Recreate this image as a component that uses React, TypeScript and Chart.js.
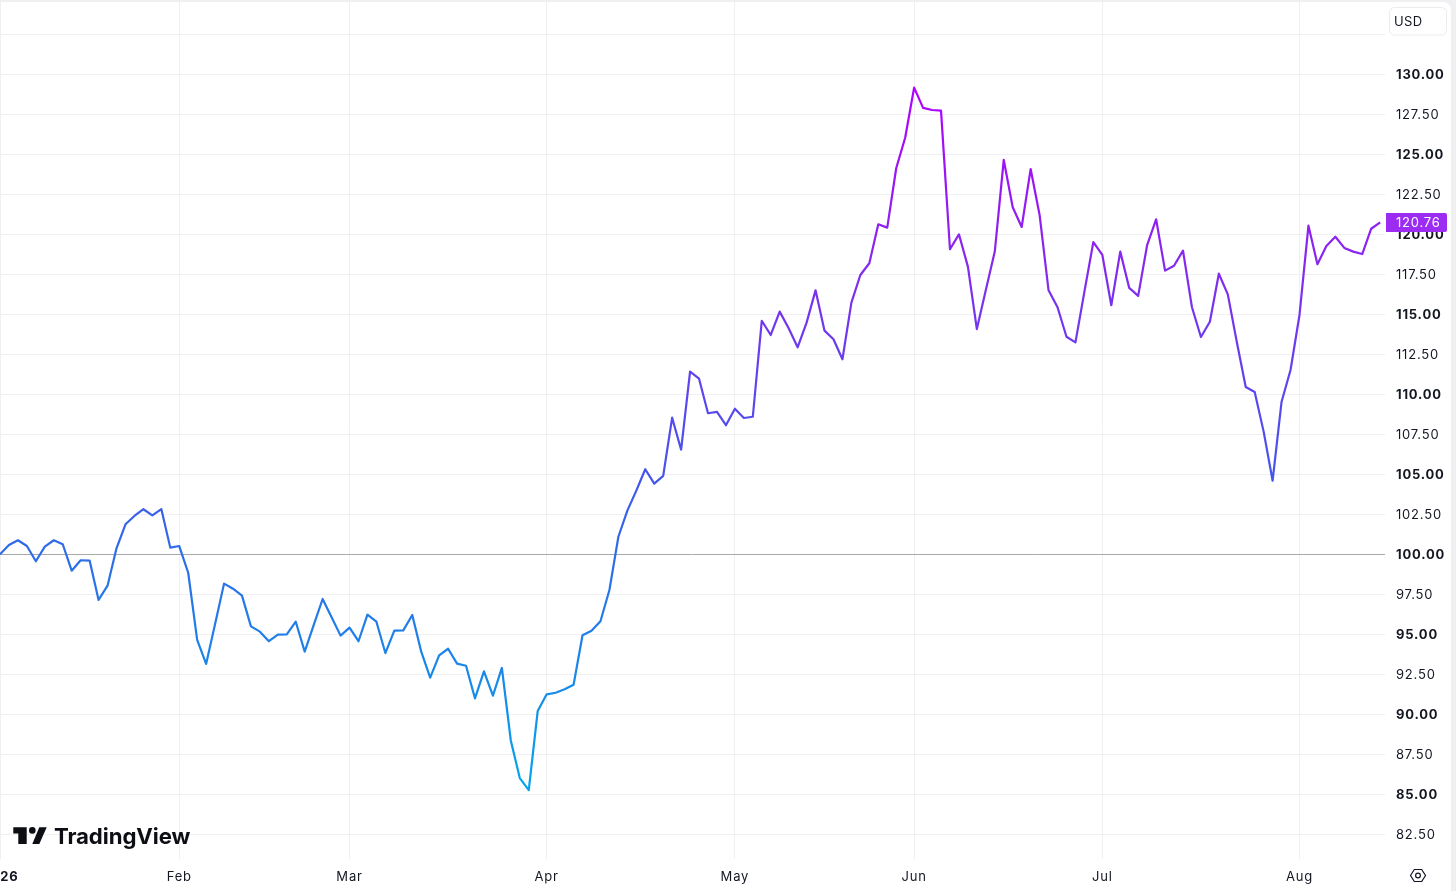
import React, { useEffect, useRef } from "react";
import { Chart, registerables } from "chart.js";

Chart.register(...registerables);

const indexValues = [
  100.01, 100.59, 100.89, 100.53, 99.58, 100.49, 100.89, 100.64, 98.99, 99.64,
  99.62, 97.16, 98.05, 100.39, 101.89, 102.41, 102.83, 102.45, 102.84, 100.43,
  100.53, 98.86, 94.66, 93.16, 95.66, 98.18, 97.86, 97.43, 95.51, 95.18,
  94.58, 94.99, 95.01, 95.8, 93.93, 95.59, 97.22, 96.08, 94.93, 95.43,
  94.58, 96.24, 95.8, 93.84, 95.24, 95.26, 96.22, 93.93, 92.3, 93.7,
  94.11, 93.18, 93.05, 91.01, 92.7, 91.18, 92.91, 88.36, 86.03, 85.28,
  90.22, 91.26, 91.36, 91.58, 91.86, 94.95, 95.24, 95.83, 97.78, 101.11,
  102.74, 103.99, 105.33, 104.43, 104.91, 108.55, 106.55, 111.43, 110.99, 108.83,
  108.91, 108.08, 109.11, 108.53, 108.61, 114.61, 113.72, 115.18, 114.14, 112.95,
  114.49, 116.51, 113.99, 113.45, 112.2, 115.74, 117.47, 118.2, 120.64, 120.43,
  124.14, 126.05, 129.18, 127.91, 127.78, 127.74, 119.08, 120.01, 117.99, 114.09,
  116.53, 118.93, 124.66, 121.7, 120.47, 124.09, 121.22, 116.51, 115.45, 113.61,
  113.26, 116.43, 119.53, 118.72, 115.58, 118.93, 116.66, 116.16, 119.34, 120.95,
  117.74, 118.05, 118.99, 115.45, 113.59, 114.55, 117.55, 116.26, 113.3, 110.47,
  110.16, 107.68, 104.61, 109.55, 111.53, 114.97, 120.55, 118.14, 119.28, 119.86,
  119.16, 118.93, 118.78, 120.36, 120.76,
];
const monthTicks = [0, 20, 39, 61, 82, 102, 123, 145];
const monthLabels = ["2026", "Feb", "Mar", "Apr", "May", "Jun", "Jul", "Aug"];
const priceTicks = [
  82.5, 85, 87.5, 90, 92.5, 95, 97.5, 100, 102.5, 105, 107.5, 110, 112.5, 115,
  117.5, 120, 122.5, 125, 127.5, 130, 132.5,
];
const unlabelledPrice = 132.5;
const baselinePrice = 100;
const currency = "USD";
const brand = "TradingView";

const FONT = "Inter, 'Liberation Sans', sans-serif";
const INK = "#131722";

const overlay = {
  id: "overlay",
  beforeDraw(chart: any) {
    const c = chart.ctx;
    c.letterSpacing = "0.8px";
    c.save();
    c.fillStyle = "#f0f0f3";
    c.fillRect(0, 0, chart.width, chart.height);
    c.fillStyle = "#ffffff";
    c.beginPath();
    c.roundRect(-10, 2, 1461, 900, 8);
    c.fill();
    c.restore();
  },
  afterDraw(chart: any) {
    const c = chart.ctx;
    const last = indexValues[indexValues.length - 1];
    const y = chart.scales.y.getPixelForValue(last);
    c.save();
    // last price badge
    c.fillStyle = "#9d2cf2";
    c.beginPath();
    c.roundRect(1386, Math.round(y) - 9, 61, 19, [0, 2, 2, 0]);
    c.fill();
    c.fillStyle = "#ffffff";
    c.font = `400 13px ${FONT}`;
    c.textBaseline = "middle";
    c.textAlign = "left";
    c.fillText(last.toFixed(2), 1396, Math.round(y) + 1);

    // currency box
    c.fillStyle = "#ffffff";
    c.strokeStyle = "#ececef";
    c.lineWidth = 1;
    c.beginPath();
    c.roundRect(1389.5, 7.5, 57, 27.5, 5);
    c.fill();
    c.stroke();
    c.fillStyle = INK;
    c.letterSpacing = "0.35px";
    c.fillText(currency, 1394, 22);

    // logo mark
    c.fillStyle = "#0c0e14";
    c.beginPath();
    c.moveTo(13.3, 827.3);
    c.lineTo(26.7, 827.3);
    c.lineTo(26.7, 844);
    c.lineTo(18.3, 844);
    c.lineTo(18.3, 833.6);
    c.lineTo(13.3, 833.6);
    c.closePath();
    c.fill();
    c.beginPath();
    c.arc(32.3, 830.4, 3.3, 0, Math.PI * 2);
    c.fill();
    c.beginPath();
    c.moveTo(39.3, 827.3);
    c.lineTo(46.7, 827.3);
    c.lineTo(39.3, 844);
    c.lineTo(32.3, 844);
    c.closePath();
    c.fill();
    c.letterSpacing = "-0.1px";
    c.font = `700 22.2px ${FONT}`;
    c.textBaseline = "alphabetic";
    c.fillText(brand, 54, 844);

    // settings hexagon
    const cx = 1418;
    const cy = 875.5;
    c.strokeStyle = INK;
    c.lineWidth = 1.2;
    c.beginPath();
    c.moveTo(cx - 7.5, cy);
    c.lineTo(cx - 3.7, cy - 6);
    c.lineTo(cx + 3.7, cy - 6);
    c.lineTo(cx + 7.5, cy);
    c.lineTo(cx + 3.7, cy + 6);
    c.lineTo(cx - 3.7, cy + 6);
    c.closePath();
    c.stroke();
    c.beginPath();
    c.arc(cx, cy, 2.4, 0, Math.PI * 2);
    c.stroke();
    c.restore();
  },
};

function lineGradient(ctx: any) {
  const { chart } = ctx;
  if (!chart.chartArea) return "#7a30e8";
  const g = chart.ctx.createLinearGradient(0, 87, 0, 790);
  const stops: [number, string][] = [
    [87, "#b000ff"],
    [250, "#8a25ee"],
    [400, "#5a48ee"],
    [480, "#4555ec"],
    [550, "#2e6ce8"],
    [640, "#1f80e8"],
    [790, "#05a5eb"],
  ];
  stops.forEach(([p, col]) => g.addColorStop((p - 87) / (790 - 87), col));
  return g;
}

function dropPadding(s: any) {
  s.paddingLeft = 0;
  s.paddingRight = 0;
  s.paddingTop = 0;
  s.paddingBottom = 0;
}

export default function App() {
  const ref = useRef<HTMLCanvasElement>(null);
  useEffect(() => {
    const chart = new Chart(ref.current as HTMLCanvasElement, {
      type: "line",
      data: {
        datasets: [
          {
            data: indexValues.map((v, i) => ({ x: i, y: v })),
            borderColor: lineGradient,
            borderWidth: 2.2,
            tension: 0,
            pointRadius: 0,
            borderJoinStyle: "round",
            clip: false,
          },
        ],
      },
      options: {
        animation: false,
        responsive: false,
        devicePixelRatio: 1,
        events: [],
        layout: { autoPadding: false, padding: { top: 2, left: 0, right: 0, bottom: 0 } },
        plugins: { legend: { display: false }, tooltip: { enabled: false } },
        scales: {
          x: {
            type: "linear",
            min: 0,
            max: 154.54,
            afterFit(s: any) {
              s.height = 32;
              dropPadding(s);
            },
            afterBuildTicks(s: any) {
              s.ticks = monthTicks.map((value) => ({ value }));
            },
            border: { display: false },
            grid: { color: "#f0f0f3", drawTicks: false, lineWidth: 1 },
            ticks: {
              autoSkip: false,
              maxRotation: 0,
              padding: 10,
              color: INK,
              font: (ctx: any) => ({
                family: FONT,
                size: 13,
                weight: ctx.index === 0 ? "700" : "400",
              }),
              callback: (_v: any, i: number) => monthLabels[i],
            },
          },
          y: {
            type: "linear",
            position: "right",
            min: 80.97,
            max: 134.53,
            afterFit(s: any) {
              s.width = 71;
              dropPadding(s);
            },
            afterBuildTicks(s: any) {
              s.ticks = priceTicks.map((value) => ({ value }));
            },
            border: { display: false },
            grid: {
              drawTicks: false,
              lineWidth: 1,
              color: (ctx: any) =>
                ctx.tick && ctx.tick.value === baselinePrice ? "#a9a9ac" : "#f0f0f3",
            },
            ticks: {
              autoSkip: false,
              padding: 11,
              labelOffset: 1,
              crossAlign: "near",
              color: INK,
              font: (ctx: any) => ({
                family: FONT,
                size: 13,
                weight: ctx.tick && ctx.tick.value % 5 === 0 ? "700" : "400",
              }),
              callback: (v: any) => (v === unlabelledPrice ? "" : Number(v).toFixed(2)),
            },
          },
        },
      },
      plugins: [overlay],
    } as any);
    return () => chart.destroy();
  }, []);
  return (
    <div style={{ position: "fixed", left: 0, top: 0, width: 1456, height: 891 }}>
      <canvas ref={ref} width={1456} height={891} style={{ display: "block", width: 1456, height: 891 }} />
    </div>
  );
}
